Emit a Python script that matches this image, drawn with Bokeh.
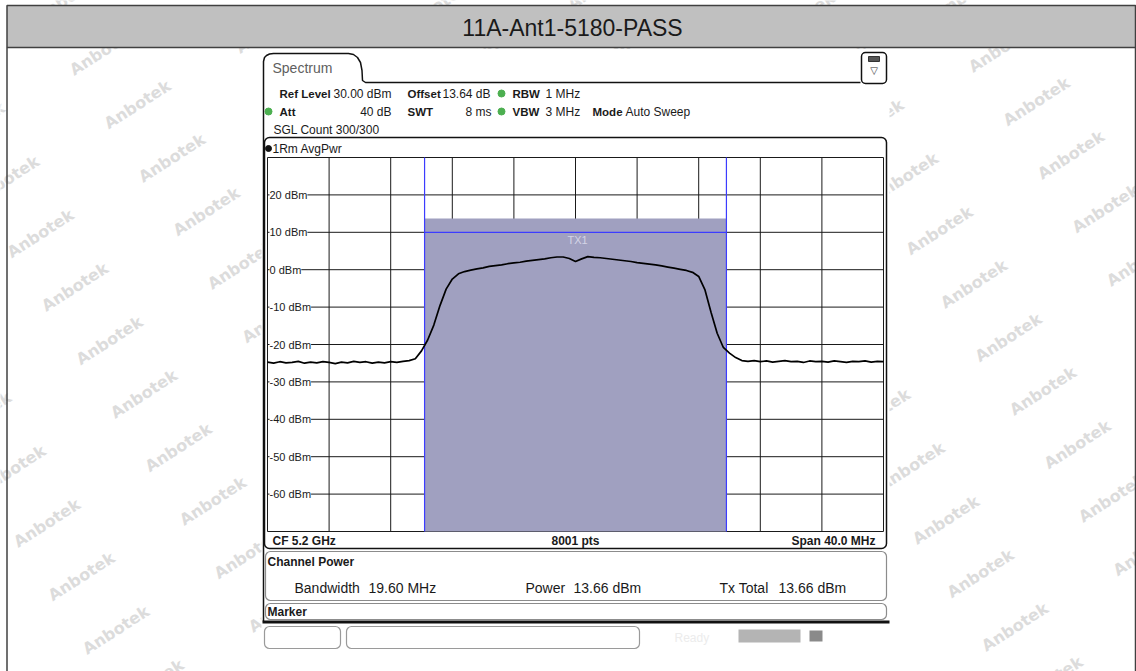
from bokeh.plotting import figure
from bokeh.models import Range1d
from bokeh.core.properties import value
from bokeh.embed import file_html
from bokeh.resources import INLINE

# ---------------- data ----------------
TITLE = "11A-Ant1-5180-PASS"
REF_LEVEL_DBM = 30.0
X_GRID_MHZ = [-20, -16, -12, -8, -4, 0, 4, 8, 12, 16, 20]
Y_GRID_DBM = [30, 20, 10, 0, -10, -20, -30, -40, -50, -60, -70]
Y_TICKS_DBM = [20, 10, 0, -10, -20, -30, -40, -50, -60]
Y_TICK_LABELS = ["20 dBm", "10 dBm", "0 dBm", "-10 dBm", "-20 dBm",
                 "-30 dBm", "-40 dBm", "-50 dBm", "-60 dBm"]
CHANNEL_BW_MHZ = 19.60
CHANNEL_POWER_DBM = 13.66
TX_TOTAL_DBM = 13.66
TX_LINE_DBM = 10.0

TRACE_FREQ_MHZ = [
    -20.0, -19.6, -19.2, -18.8, -18.4, -18.0, -17.6, -17.2, -16.8, -16.4,
    -16.0, -15.6, -15.2, -14.8, -14.4, -14.0, -13.6, -13.2, -12.8, -12.4,
    -12.0, -11.6, -11.2, -10.8, -10.4, -10.0, -9.6, -9.2, -8.8, -8.4,
    -8.0, -7.6, -7.2, -6.8, -6.4, -6.0, -5.6, -5.2, -4.8, -4.4,
    -4.0, -3.6, -3.2, -2.8, -2.4, -2.0, -1.6, -1.2, -0.8, -0.4,
    0.0, 0.4, 0.8, 1.2, 1.6, 2.0, 2.4, 2.8, 3.2, 3.6,
    4.0, 4.4, 4.8, 5.2, 5.6, 6.0, 6.4, 6.8, 7.2, 7.6,
    8.0, 8.4, 8.8, 9.2, 9.6, 10.0, 10.4, 10.8, 11.2, 11.6,
    12.0, 12.4, 12.8, 13.2, 13.6, 14.0, 14.4, 14.8, 15.2, 15.6,
    16.0, 16.4, 16.8, 17.2, 17.6, 18.0, 18.4, 18.8, 19.2, 19.6, 20.0]
TRACE_LEVEL_DBM = [
    -24.7, -25.0, -24.6, -24.9, -24.8, -24.5, -25.0, -24.7, -24.9, -24.6,
    -24.8, -25.1, -24.7, -24.9, -24.5, -24.8, -24.6, -25.0, -24.7, -24.9,
    -24.6, -24.8, -24.5, -24.3, -23.8, -21.7, -18.8, -14.8, -9.6, -5.2,
    -2.5, -1.1, -0.5, -0.1, 0.2, 0.5, 0.9, 1.1, 1.3, 1.6,
    1.8, 2.0, 2.3, 2.5, 2.7, 2.9, 3.2, 3.4, 3.4, 3.0,
    2.2, 2.9, 3.5, 3.3, 3.2, 3.0, 2.8, 2.6, 2.4, 2.2,
    1.9, 1.7, 1.5, 1.3, 1.0, 0.7, 0.4, 0.1, -0.2, -0.7,
    -1.8, -5.3, -11.4, -17.0, -20.8, -22.3, -23.5, -24.3, -24.5, -24.3,
    -24.6, -24.4, -24.7, -24.5, -24.3, -24.6, -24.5, -24.8, -24.4, -24.6,
    -24.5, -24.7, -24.4, -24.6, -24.8, -24.5, -24.6, -24.4, -24.7, -24.5, -24.6]

# ---------------- layout (pixel geometry of the reference) ----------------
W, H = 1136, 671
PX_PER_MHZ = 15.4
PX_PER_DB = 3.74
CX_PX = 575.0
TOP_PX = 157.0


def fx(px):
    return (px - CX_PX) / PX_PER_MHZ


def fy(py):
    return REF_LEVEL_DBM - (py - TOP_PX) / PX_PER_DB


p = figure(width=W, height=H, x_range=Range1d(fx(0), fx(W)), y_range=Range1d(fy(H), fy(0)),
           output_backend="svg", toolbar_location=None, tools="", min_border=0,
           x_axis_location=None, y_axis_location=None)
p.xgrid.visible = False
p.ygrid.visible = False
p.outline_line_color = None
p.background_fill_color = "white"
p.border_fill_color = "white"

FONT = "Liberation Sans"


def box(l, t, r, b, fill="white", line=None, lw=1.0, radius=0):
    p.quad(left=[fx(l)], right=[fx(r)], top=[fy(t)], bottom=[fy(b)],
           fill_color=fill, line_color=line, line_width=lw, border_radius=radius)


def seg(x0, y0, x1, y1, color="#000000", lw=1.0):
    p.line([fx(x0), fx(x1)], [fy(y0), fy(y1)], line_color=color, line_width=lw)


def txt(x, y, s, size, color="#1a1a1a", bold=False, align="left", font=FONT):
    p.text(x=[fx(x)], y=[fy(y)], text=[s], text_font=value(font),
           text_font_size=f"{size}px", text_color=color, text_align=align,
           text_baseline="middle", text_font_style="bold" if bold else "normal")


# ---- watermarks (decoration, below everything) ----
wx, wy = [], []
for i in range(-12, 32):
    for j in range(-10, 10):
        px = 137 + i * 34.5 - j * 97
        py = 104 + i * 53.5 + j * 129
        if -90 < px < 1230 and -60 < py < 740:
            wx.append(fx(px))
            wy.append(fy(py))
p.text(x=wx, y=wy, text=["Anbotek"] * len(wx), angle=0.575, text_font=value("DejaVu Sans"),
       text_font_size="16px", text_font_style="bold", text_color="#dcdcdc",
       text_align="center", text_baseline="middle")

# ---- table frame and title bar ----
box(6.5, 5, 1135, 47, fill="#c0c0c0", line="#404040", lw=1.5)
seg(6.5, 47, 6.5, 671, "#404040", 1.5)
seg(1135, 47, 1135, 671, "#404040", 1.5)
txt(572, 27, TITLE, 23, color="#1a1a1a", align="center")

# ---- analyzer screen background ----
box(261, 48.5, 889, 671, fill="white", line=None)

# tab "Spectrum"
tab_x = [263, 263, 264, 266, 269, 273, 348, 353, 357, 360, 361.5, 362, 365, 860]
tab_y = [621, 61, 57, 55, 53.5, 53, 53, 54, 57, 62, 70, 80, 82, 82]
p.line([fx(v) for v in tab_x], [fy(v) for v in tab_y], line_color="#111111", line_width=1.5)
txt(272, 67, "Spectrum", 14, color="#606060")

# icon box at top right
box(861, 52, 886, 83, fill="white", line="#111111", lw=1.5, radius=4)
box(868, 56, 879, 61, fill="#555555", line="#333333", lw=1)
txt(873.5, 70, "\u25bd", 10, color="#333333", align="center", font="DejaVu Sans")

# header info
GREEN = "#4caf50"
p.scatter([fx(268), fx(501), fx(501)], [fy(111), fy(93), fy(111)], size=7,
          fill_color=GREEN, line_color=GREEN)
txt(279, 93, "Ref Level", 11.5, bold=True)
txt(333, 93, "30.00 dBm", 12)
txt(407, 93, "Offset", 11.5, bold=True)
txt(442, 93, "13.64 dB", 12)
txt(512, 93, "RBW", 11.5, bold=True)
txt(545, 93, "1 MHz", 12)
txt(279, 111, "Att", 11.5, bold=True)
txt(391, 111, "40 dB", 12, align="right")
txt(407, 111, "SWT", 11.5, bold=True)
txt(491, 111, "8 ms", 12, align="right")
txt(512, 111, "VBW", 11.5, bold=True)
txt(545, 111, "3 MHz", 12)
txt(592, 111, "Mode", 11.5, bold=True)
txt(625, 111, "Auto Sweep", 12)
txt(273, 129, "SGL Count 300/300", 12)

# ---- trace panel ----
box(264, 137, 886, 548, fill="white", line="#111111", lw=1.5, radius=5)
p.scatter([fx(268)], [fy(148)], size=6, fill_color="#111111", line_color="#111111")
txt(272, 148, "1Rm AvgPwr", 12)

# grid
for f in X_GRID_MHZ:
    p.line([f, f], [Y_GRID_DBM[0], Y_GRID_DBM[-1]], line_color="#1a1a1a", line_width=1)
for d in Y_GRID_DBM:
    p.line([X_GRID_MHZ[0], X_GRID_MHZ[-1]], [d, d], line_color="#1a1a1a", line_width=1)

# channel shading and limits
half_bw = CHANNEL_BW_MHZ / 2
p.quad(left=[-half_bw], right=[half_bw], bottom=[Y_GRID_DBM[-1]], top=[CHANNEL_POWER_DBM],
       fill_color="#a0a0c0", line_color=None)
BLUE = "#3c3cff"
p.line([-half_bw, -half_bw], [Y_GRID_DBM[-1], Y_GRID_DBM[0]], line_color=BLUE, line_width=1.2)
p.line([half_bw, half_bw], [Y_GRID_DBM[-1], Y_GRID_DBM[0]], line_color=BLUE, line_width=1.2)
p.line([-half_bw, half_bw], [TX_LINE_DBM, TX_LINE_DBM], line_color=BLUE, line_width=1.2)
p.text(x=[fx(567)], y=[TX_LINE_DBM], y_offset=8, text=["TX1"], text_font=value(FONT),
       text_font_size="11px", text_color="#d4d4e6", text_align="left", text_baseline="middle")

# y tick labels inside the grid (white box hides the grid line behind the text)
p.text(x=[fx(269)] * len(Y_TICKS_DBM), y=Y_TICKS_DBM, text=Y_TICK_LABELS,
       text_font=value(FONT), text_font_size="11px", text_color="#1a1a1a",
       text_align="left", text_baseline="middle", background_fill_color="white")

# trace
p.line(TRACE_FREQ_MHZ, TRACE_LEVEL_DBM, line_color="#000000", line_width=1.7)

# bottom row of trace panel
txt(272, 540, "CF 5.2 GHz", 12, bold=True)
txt(575, 540, "8001 pts", 12, bold=True, align="center")
txt(875, 540, "Span 40.0 MHz", 12, bold=True, align="right")

# ---- channel power panel ----
box(265, 551, 886, 600, fill="white", line="#8c8c8c", lw=1.2, radius=5)
txt(267, 561, "Channel Power", 12, bold=True)
txt(294, 587, "Bandwidth", 14)
txt(368, 587, f"{CHANNEL_BW_MHZ:.2f} MHz", 14)
txt(525, 587, "Power", 14)
txt(573, 587, f"{CHANNEL_POWER_DBM:.2f} dBm", 14)
txt(719, 587, "Tx Total", 14)
txt(778, 587, f"{TX_TOTAL_DBM:.2f} dBm", 14)

# ---- marker panel ----
box(265, 603, 886, 619, fill="white", line="#8c8c8c", lw=1.2, radius=5)
txt(267, 611, "Marker", 12, bold=True)
seg(262, 621.5, 889, 621.5, "#111111", 3)

# ---- status bar ----
box(264, 626, 340, 648, fill="white", line="#9a9a9a", lw=1.2, radius=5)
box(346, 626, 639, 648, fill="white", line="#9a9a9a", lw=1.2, radius=5)
txt(674, 637, "Ready", 12, color="#ececec")
box(738, 629, 800, 642, fill="#b4b4b4", line=None)
box(809, 630, 822, 641, fill="#8a8a8a", line=None)

open("out.html", "w").write(file_html(p, INLINE))
